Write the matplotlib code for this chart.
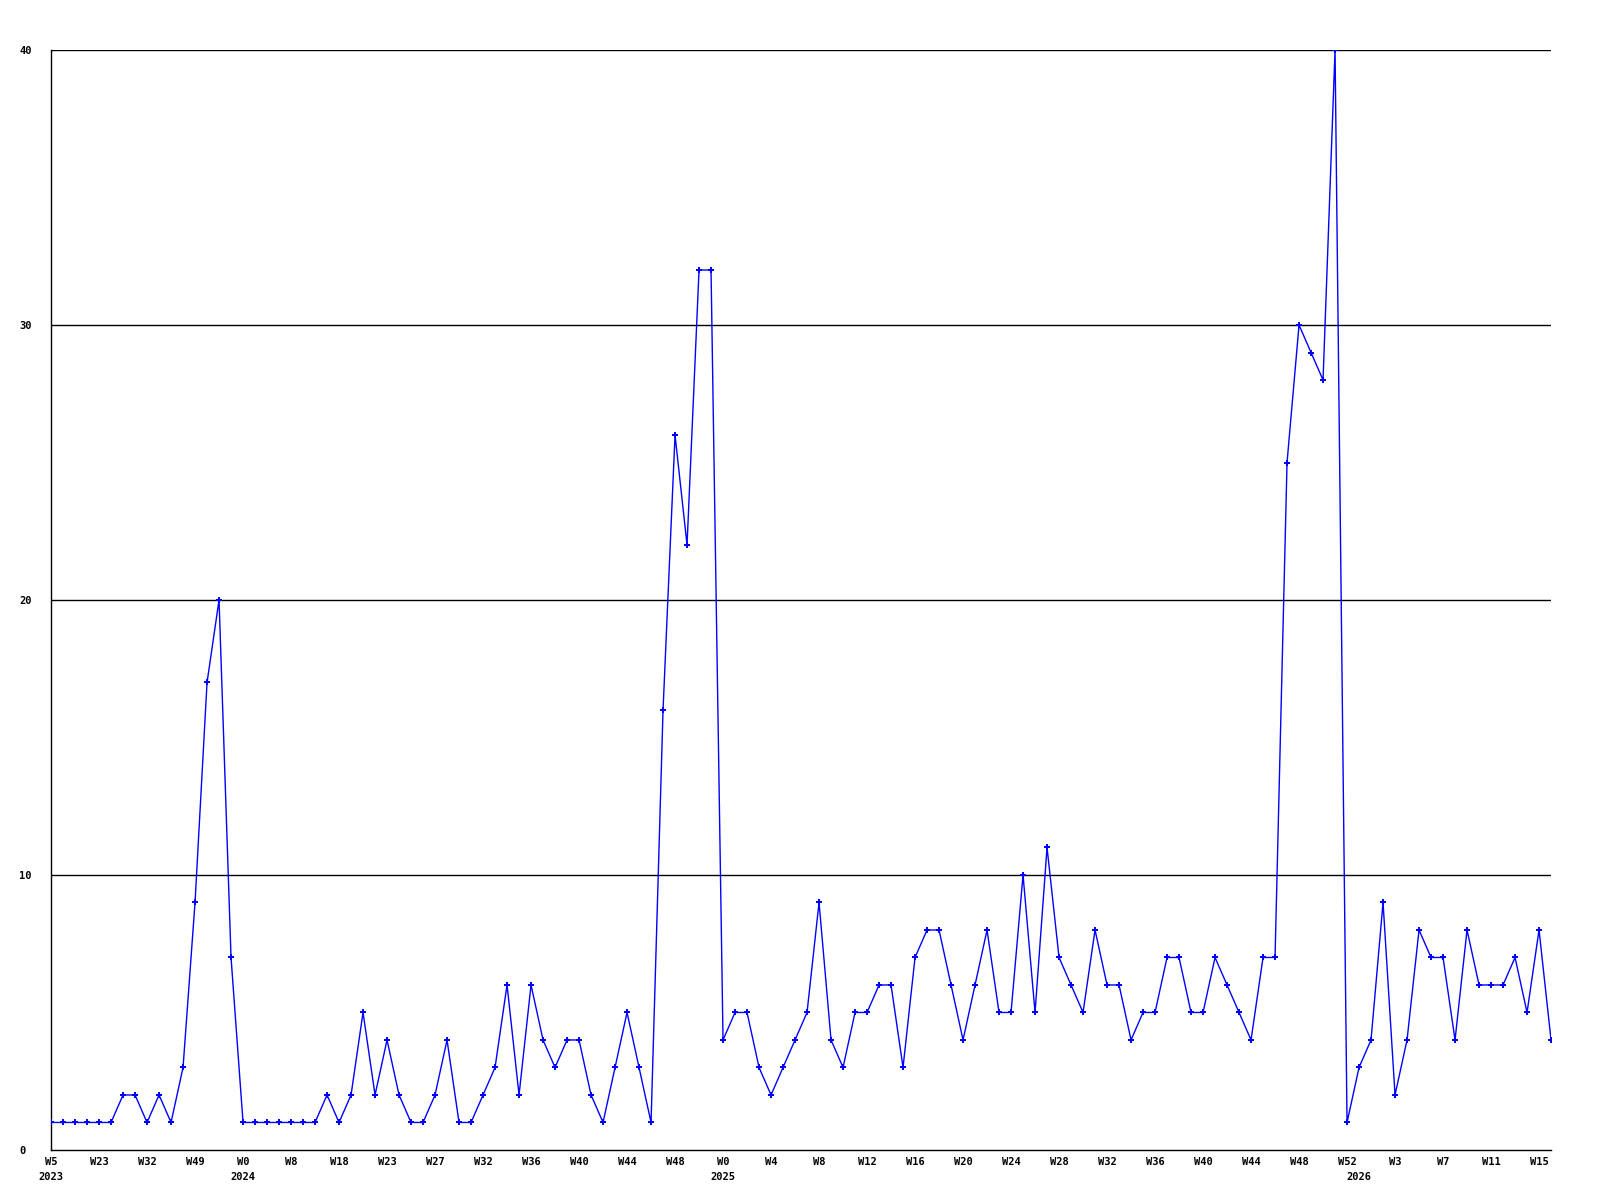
import matplotlib
matplotlib.use("Agg")
import matplotlib.pyplot as plt
import numpy as np

# weekly counts
values = [1, 1, 1, 1, 1, 1, 2, 2, 1, 2, 1, 3, 9, 17, 20, 7,
          1, 1, 1, 1, 1, 1, 1, 2, 1, 2, 5, 2, 4, 2, 1, 1,
          2, 4, 1, 1, 2, 3, 6, 2, 6, 4, 3, 4, 4, 2, 1, 3,
          5, 3, 1, 16, 26, 22, 32, 32, 4, 5, 5, 3, 2, 3, 4, 5,
          9, 4, 3, 5, 5, 6, 6, 3, 7, 8, 8, 6, 4, 6, 8, 5,
          5, 10, 5, 11, 7, 6, 5, 8, 6, 6, 4, 5, 5, 7, 7, 5,
          5, 7, 6, 5, 4, 7, 7, 25, 30, 29, 28, 40, 1, 3, 4, 9,
          2, 4, 8, 7, 7, 4, 8, 6, 6, 6, 7, 5, 8, 4]

week_labels = ["W5", "W23", "W32", "W49", "W0", "W8", "W18", "W23", "W27", "W32",
               "W36", "W40", "W44", "W48", "W0", "W4", "W8", "W12", "W16", "W20",
               "W24", "W28", "W32", "W36", "W40", "W44", "W48", "W52", "W3", "W7",
               "W11", "W15"]
week_label_idx = list(range(0, 128, 4))

year_labels = ["2023", "2024", "2025", "2026"]
year_label_idx = [0, 16, 56, 109]

y_ticks = [0, 10, 20, 30, 40]

x = np.arange(len(values))

fig = plt.figure(figsize=(16, 12), dpi=100)
ax = fig.add_axes([0.0319, 0.0417, 0.9375, 0.9166])

for yv in y_ticks[1:]:
    ax.axhline(yv, color="black", lw=1.0, zorder=1)

ax.plot(x, values, color="#0000ff", lw=1.0, marker="P", markersize=3.8,
        markeredgewidth=0, zorder=3)

ax.set_xlim(0, len(values) - 1)
ax.set_ylim(0, 40)

for s in ["top", "right"]:
    ax.spines[s].set_visible(False)
ax.spines["left"].set_linewidth(1.0)
ax.spines["bottom"].set_linewidth(1.0)

font = dict(family="DejaVu Sans Mono", weight="bold", size=7.5)

ax.set_yticks(y_ticks)
ax.set_yticklabels([str(v) for v in y_ticks], ha="left", **font)
ax.tick_params(axis="y", length=0, pad=23)

# year labels share positions with some week labels
ax.xaxis.remove_overlapping_locs = False
ax.set_xticks(week_label_idx)
ax.set_xticklabels(week_labels, **font)
ax.set_xticks(year_label_idx, minor=True)
ax.set_xticklabels(year_labels, minor=True, **font)
ax.tick_params(axis="x", which="major", length=0, pad=5)
ax.tick_params(axis="x", which="minor", length=0, pad=16)

fig.savefig("out.png", dpi=100)
